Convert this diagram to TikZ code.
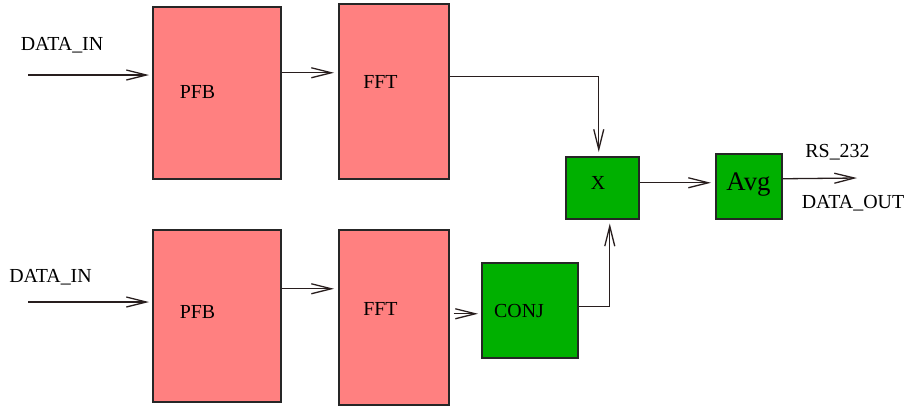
\documentclass[tikz,border=0pt]{standalone}
\usepackage{fontspec}
\setmainfont{Liberation Serif}
\usetikzlibrary{arrows.meta}
\definecolor{blockred}{RGB}{255,128,128}
\definecolor{blockgreen}{RGB}{0,176,0}
\definecolor{wire}{RGB}{40,30,30}
\begin{document}
\begin{tikzpicture}[x=1pt,y=-1pt,
  block/.style={draw=black!85, line width=1.5pt, inner sep=0pt, anchor=north west},
  stage/.style={block, fill=blockred},
  proc/.style={block, fill=blockgreen},
  lbl/.style={inner sep=0pt, anchor=base, font=\fontsize{19.9}{23}\selectfont},
  arr/.style={draw=wire, line width=1.3pt,
    -{Straight Barb[length=20pt,width=10pt,line width=1.3pt]}},
  wireline/.style={draw=wire, line width=1.3pt}]
\useasboundingbox (0,0) rectangle (909,407);

% processing blocks
\node[stage, minimum width=128pt, minimum height=172pt] (pfbA) at (152,6) {};
\node[stage, minimum width=110pt, minimum height=175pt] (fftA) at (338,3) {};
\node[stage, minimum width=128pt, minimum height=172pt] (pfbB) at (152,229) {};
\node[stage, minimum width=110pt, minimum height=175pt] (fftB) at (338,229) {};
\node[proc, minimum width=96pt, minimum height=95pt] (conj) at (481,262) {};
\node[proc, minimum width=73pt, minimum height=62pt] (mult) at (565,156) {};
\node[proc, minimum width=66pt, minimum height=65pt] (avg) at (715,153) {};

% block captions
\node[lbl] (pfbAt) at (197.5,98) {PFB};
\node[lbl] (fftAt) at (380.5,88) {FFT};
\node[lbl] (pfbBt) at (197.5,318) {PFB};
\node[lbl] (fftBt) at (380.5,315) {FFT};
\node[lbl] (conjt) at (519,317) {CONJ};
\node[lbl] (multt) at (598,189) {X};
\node[lbl, font=\fontsize{26.8}{30}\selectfont] (avgt) at (748.5,190) {Avg};

% signal names
\node[lbl] (dinA) at (62,50) {DATA\_IN};
\node[lbl] (dinB) at (50.5,282) {DATA\_IN};
\node[lbl] (rs) at (837.5,157) {RS\_232};
\node[lbl] (dout) at (853,208) {DATA\_OUT};

% free ends of the input and output lines
\coordinate (inA) at (28,75);
\coordinate (inB) at (28,302);
\coordinate (out) at (857,178);

% upper channel
\draw[arr, shorten >=3pt] (inA) -- (inA -| pfbA.west);
\draw[arr, shorten >=4pt] ([yshift=20pt]pfbA.east) -- ([yshift=20pt]pfbA.east -| fftA.west);
\draw[arr, shorten >=4pt] ([yshift=14.5pt]fftA.east) -| ([xshift=-3.5pt]mult.north);

% lower channel
\draw[arr, shorten >=3pt] (inB) -- (inB -| pfbB.west);
\draw[arr, shorten >=4pt] ([yshift=27pt]pfbB.east) -- ([yshift=27pt]pfbB.east -| fftB.west);
\draw[arr, shorten <=4pt, shorten >=3pt] ([yshift=-3.5pt]conj.west -| fftB.east) -- ([yshift=-3.5pt]conj.west);
\draw[arr, shorten >=4pt] ([yshift=3.5pt]conj.east) -| ([xshift=7.5pt]mult.south);

% product, averaging and output
\draw[arr, shorten >=4pt] ([yshift=5pt]mult.east) -- ([yshift=5pt]mult.east -| avg.west);
\draw[arr] ([yshift=7.5pt]avg.east) -- (out);
\end{tikzpicture}
\end{document}
